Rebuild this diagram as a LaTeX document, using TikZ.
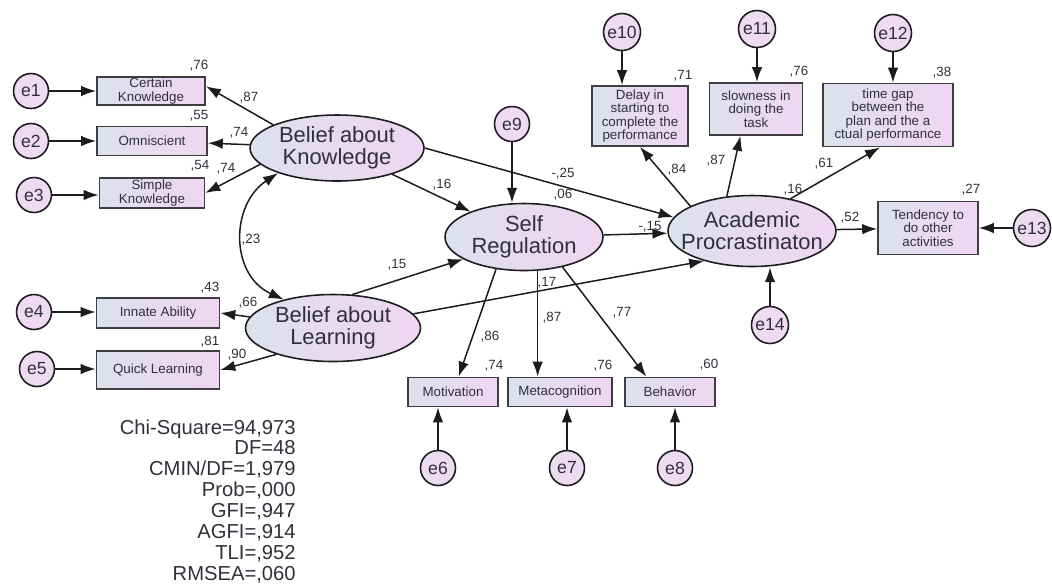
\documentclass[tikz,border=0pt]{standalone}
\usepackage{fontspec}
\setmainfont{Liberation Sans}
\usepackage{tikz}
\usetikzlibrary{arrows.meta,shapes.geometric}

\definecolor{shadeleft}{RGB}{220,225,238}
\definecolor{shaderight}{RGB}{240,214,242}
\definecolor{errfill}{RGB}{238,218,241}
\definecolor{linecol}{RGB}{28,28,30}
\definecolor{txtcol}{RGB}{48,48,58}

\tikzset{
	latent/.style={ellipse, draw=linecol, line width=0.9pt, left color=shadeleft, right color=shaderight,
		align=center, text=txtcol, font=\fontsize{12.5}{12.5}\selectfont, inner sep=-1cm,
		minimum width=#1},
	observed/.style 2 args={rectangle, draw=linecol!85, line width=1pt, left color=shadeleft, right color=shaderight,
		align=center, text=txtcol, font=\fontsize{7.6}{7.6}\selectfont, inner sep=0pt,
		minimum width=#1*0.02cm, minimum height=#2*0.02cm},
	errnode/.style={circle, draw=linecol, line width=0.9pt, fill=errfill, text=txtcol,
		font=\fontsize{10}{10}\selectfont, inner sep=0pt, minimum size=0.7cm},
	coef/.style={font=\fontsize{7.6}{8}\selectfont, text=txtcol, inner sep=0pt},
	arrowline/.style={draw=linecol, line width=0.85pt, -{Latex[length=8.5pt,width=6pt]}},
	covline/.style={draw=linecol, line width=0.85pt, {Latex[length=8.5pt,width=6pt]}-{Latex[length=8.5pt,width=6pt]}}
}

\begin{document}
\begin{tikzpicture}[x=0.02cm,y=-0.02cm]
	\useasboundingbox (0,0) rectangle (1052,583);

	\node[latent=3.48cm, minimum height=1.32cm] (bk) at (337,148) {Belief about\\Knowledge};
	\node[latent=3.5cm, minimum height=1.34cm] (bl) at (333,328) {Belief about\\Learning};
	\node[latent=3.16cm, minimum height=1.34cm] (sr) at (524,237) {Self\\Regulation};
	\node[latent=3.36cm, minimum height=1.42cm] (ap) at (752,231) {Academic\\Procrastinaton};

	\node[observed={108}{28}] (ck) at (151,91) {Certain\\Knowledge};
	\node[observed={110}{29}] (om) at (152,141) {Omniscient};
	\node[observed={105}{30}] (sk) at (152,193) {Simple\\Knowledge};
	\node[observed={123}{30}] (ia) at (158,313) {Innate Ability};
	\node[observed={123}{38}] (ql) at (158,370) {Quick Learning};
	\node[observed={96}{60}] (delay) at (640,116) {Delay in\\starting to\\complete the\\performance};
	\node[observed={93}{52}] (slow) at (756,109) {slowness in\\doing the\\task};
	\node[observed={130}{63}] (tgap) at (888,115) {time gap\\between the\\plan and the a\\ctual performance};
	\node[observed={100}{53}] (tend) at (928,228) {Tendency to\\do other\\activities};
	\node[observed={90}{29}] (mot) at (453,392) {Motivation};
	\node[observed={104}{29}] (meta) at (560,392) {Metacognition};
	\node[observed={90}{29}] (beh) at (670,392) {Behavior};

	\node[errnode] (e1) at (31,91) {e1};
	\node[errnode] (e2) at (31,141) {e2};
	\node[errnode] (e3) at (34,195) {e3};
	\node[errnode] (e4) at (34,312) {e4};
	\node[errnode] (e5) at (37,369) {e5};
	\node[errnode] (e6) at (438,468) {e6};
	\node[errnode] (e7) at (567,468) {e7};
	\node[errnode] (e8) at (675,468) {e8};
	\node[errnode] (e9) at (512,124) {e9};
	\node[errnode, minimum size=0.74cm] (e10) at (622,32) {e10};
	\node[errnode, minimum size=0.74cm] (e11) at (757,29) {e11};
	\node[errnode, minimum size=0.74cm] (e12) at (893,33) {e12};
	\node[errnode, minimum size=0.74cm] (e13) at (1032,228) {e13};
	\node[errnode, minimum size=0.74cm] (e14) at (770,325) {e14};

	\draw[arrowline] (e1) -- (e1 -| ck.west);
	\draw[arrowline] (e2) -- (e2 -| om.west);
	\draw[arrowline] (e3) -- (e3 -| sk.west);
	\draw[arrowline] (e4) -- (e4 -| ia.west);
	\draw[arrowline] (e5) -- (e5 -| ql.west);
	\draw[arrowline] (e6) -- (e6 |- mot.south);
	\draw[arrowline] (e7) -- (e7 |- meta.south);
	\draw[arrowline] (e8) -- (e8 |- beh.south);
	\draw[arrowline] (e9) -- (e9 |- sr.north);
	\draw[arrowline] (e10) -- (e10 |- delay.north);
	\draw[arrowline] (e11) -- (e11 |- slow.north);
	\draw[arrowline] (e12) -- (e12 |- tgap.north);
	\draw[arrowline] (e13) -- (e13 -| tend.east);
	\draw[arrowline] (e14) -- (e14 |- ap.south);

	\draw[arrowline] (bk.160) -- (ck.5);
	\draw[arrowline] (bk) -- (om);
	\draw[arrowline] (bk.192) -- (sk.east);
	\draw[arrowline] (bl) -- (ia.east);
	\draw[arrowline] (bl.205) -- (ql.east);
	\draw[covline] (bk.203) .. controls (230,205) and (230,275) .. (bl.150);
	\draw[arrowline] (bk) -- (sr);
	\draw[arrowline] (bk.east) -- (ap.170);
	\draw[arrowline] (bl.60) -- (sr.200);
	\draw[arrowline] (bl.10) -- (ap.212);
	\draw[arrowline] (sr) -- (ap);
	\draw[arrowline] (sr.229) -- (mot.70);
	\draw[arrowline] (sr.292) -- (sr.292 |- meta.north);
	\draw[arrowline] (sr.322) -- (beh.147);
	\draw[arrowline] (ap.158) -- (delay.south);
	\draw[arrowline] (ap.126) -- (slow.240);
	\draw[arrowline] (ap.40) -- (tgap.256);
	\draw[arrowline] (ap) -- (tend);

	\node[coef] (r1) at (199,66) {,76};
	\node[coef] (p1) at (249,98) {,87};
	\node[coef] (r2) at (199,116) {,55};
	\node[coef] (p2) at (239,133) {,74};
	\node[coef] (r3) at (200,166) {,54};
	\node[coef] (p3) at (226,169) {,74};
	\node[coef] (cv) at (251,240) {,23};
	\node[coef] (r4) at (210,288) {,43};
	\node[coef] (p4) at (248,303) {,66};
	\node[coef] (r5) at (210,342) {,81};
	\node[coef] (p5) at (237,355) {,90};
	\node[coef] (p6) at (442,185) {,16};
	\node[coef] (p7) at (397,265) {,15};
	\node[coef] (p8) at (563,174) {-,25};
	\node[coef] (r6) at (563,195) {,06};
	\node[coef] (p9) at (650,227) {-,15};
	\node[coef] (p10) at (547,283) {,17};
	\node[coef] (p11) at (490,337) {,86};
	\node[coef] (p12) at (552,318) {,87};
	\node[coef] (p13) at (622,313) {,77};
	\node[coef] (r7) at (494,366) {,74};
	\node[coef] (r8) at (603,366) {,76};
	\node[coef] (r9) at (709,365) {,60};
	\node[coef] (r10) at (683,76) {,71};
	\node[coef] (r11) at (799,72) {,76};
	\node[coef] (r12) at (942,73) {,38};
	\node[coef] (p14) at (677,170) {,84};
	\node[coef] (p15) at (716,161) {,87};
	\node[coef] (p16) at (824,164) {,61};
	\node[coef] (r13) at (793,190) {,16};
	\node[coef] (p17) at (850,218) {,52};
	\node[coef] (r14) at (971,190) {,27};

	\node[anchor=north east, align=right, inner sep=0pt, text=txtcol,
		font=\fontsize{11.5}{11.9}\selectfont] (fit) at (296,419)
		{Chi-Square=94,973\\DF=48\\CMIN/DF=1,979\\Prob=,000\\GFI=,947\\AGFI=,914\\TLI=,952\\RMSEA=,060};
\end{tikzpicture}
\end{document}
